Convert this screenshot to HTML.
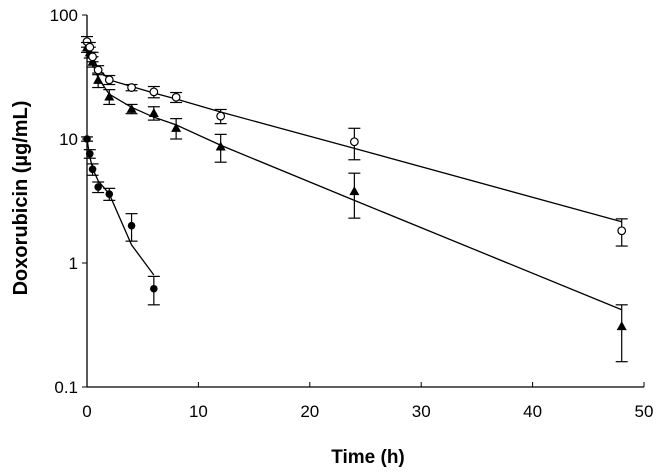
<!DOCTYPE html>
<html><head><meta charset="utf-8"><style>
body{margin:0;background:#fff;}
svg text{font-family:"Liberation Sans",Arial,sans-serif;fill:#000;}
</style></head><body>
<svg id="chart" width="660" height="468" viewBox="0 0 660 468">
<g id="axes"></g><g id="plot"></g>
<text x="368" y="463" font-size="19" font-weight="bold" text-anchor="middle">Time (h)</text>
<text transform="translate(27,198) rotate(-90)" font-size="20" font-weight="bold" text-anchor="middle">Doxorubicin (µg/mL)</text>
</svg>
<script>
const xTicks=[0,10,20,30,40,50];
const yTicks=[0.1,1,10,100];
const yTickLabels=["0.1","1","10","100"];
const tOpen=[0,0.25,0.5,1,2,4,6,8,12,24,48];
const vOpen=[61,55,46,36,30,26,24,21.7,15.3,9.5,1.82];
const eOpen=[6,5,4,3,2.5,1.5,2.5,2,2,2.7,0.45];
const tTri=[0,0.25,0.5,1,2,4,6,8,12,24,48];
const vTri=[55,50,42,30,22,17.5,16.2,12.3,8.7,3.8,0.31];
const eTri=[5,5,4,4,3,1.5,2,2.3,2.2,1.5,0.15];
const tDot=[0,0.25,0.5,1,2,4,6];
const vDot=[10,7.6,5.7,4.1,3.6,2.0,0.62];
const eDot=[0.4,0.6,0.6,0.4,0.4,0.5,0.16];
const fitT1=[0,0.25,0.5,1,2,4,6,8,12,24,48];
const fitOpen=[62,53,46,37,30,26.5,23.5,21,16.5,8.4,2.15];
const fitTri=[56,48,41,31,23,18,15,13,8.9,3.2,0.42];
const fitT2=[0,0.25,0.5,1,2,4,6];
const fitDot=[10,7.2,5.8,4.6,3.6,1.4,0.8];

const X=t=>87+t*11.14;
const Y=v=>15+124*(2-Math.log10(v));
const NS="http://www.w3.org/2000/svg";
const axes=document.getElementById('axes'),plot=document.getElementById('plot');
function mk(tag,attrs,parent){const e=document.createElementNS(NS,tag);for(const k in attrs)e.setAttribute(k,attrs[k]);parent.appendChild(e);return e;}
let l=mk('line',{x1:87,y1:Y(0.1),x2:X(50),y2:Y(0.1),stroke:'#000','stroke-width':1.3},axes);


l=mk('line',{x1:87,y1:Y(100),x2:87,y2:Y(0.1),stroke:'#000','stroke-width':1.3},axes);


xTicks.forEach(t=>{mk('line',{x1:X(t),y1:Y(0.1),x2:X(t),y2:Y(0.1)-5,stroke:'#000'},axes);
const tx=mk('text',{x:X(t),y:Y(0.1)+30,'font-size':17,'text-anchor':'middle'},axes);tx.textContent=t;

});
yTicks.forEach((v,i)=>{mk('line',{x1:82,y1:Y(v),x2:87,y2:Y(v),stroke:'#000'},axes);
const tx=mk('text',{x:78,y:Y(v)+6,'font-size':17,'text-anchor':'end'},axes);tx.textContent=yTickLabels[i];

});
function fit(ts,vs,name){const p=mk('polyline',{points:ts.map((t,i)=>X(t)+','+Y(vs[i])).join(' '),fill:'none',stroke:'#000','stroke-width':1.3},plot);

}
fit(fitT1,fitOpen,'fit-line-open');fit(fitT1,fitTri,'fit-line-triangle');fit(fitT2,fitDot,'fit-line-filled');
function series(ts,vs,es,shape,name){ts.forEach((t,i)=>{const x=X(t),y=Y(vs[i]),hi=Y(vs[i]+es[i]),lo=Y(vs[i]-es[i]);
const g=mk('g',{},plot);


mk('line',{x1:x,y1:hi,x2:x,y2:lo,stroke:'#000','stroke-width':1.2},g);
mk('line',{x1:x-6,y1:hi,x2:x+6,y2:hi,stroke:'#000','stroke-width':1.2},g);
mk('line',{x1:x-6,y1:lo,x2:x+6,y2:lo,stroke:'#000','stroke-width':1.2},g);
if(shape==='open')mk('circle',{cx:x,cy:y,r:3.8,fill:'#fff',stroke:'#000','stroke-width':1.2},g);
else if(shape==='dot')mk('circle',{cx:x,cy:y,r:3.8,fill:'#000'},g);
else mk('polygon',{points:`${x},${y-5} ${x-5},${y+4} ${x+5},${y+4}`,fill:'#000'},g);});}
series(tDot,vDot,eDot,'dot','point-filled-circle');
series(tTri,vTri,eTri,'tri','point-triangle');
series(tOpen,vOpen,eOpen,'open','point-open-circle');
</script>
</body></html>
